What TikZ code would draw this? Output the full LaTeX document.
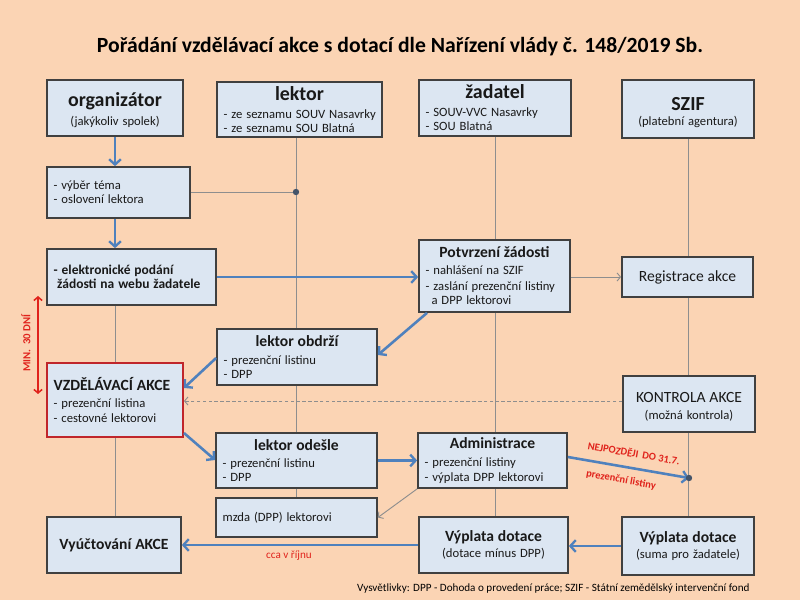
\documentclass[tikz,border=0pt]{standalone}
\usepackage{fontspec}
\setmainfont{Carlito}
\usetikzlibrary{arrows.meta}
\definecolor{bgc}{HTML}{FBD4B4}
\definecolor{boxfill}{HTML}{DCE6F2}
\definecolor{boxline}{HTML}{404040}
\definecolor{arrowblue}{HTML}{4F81BD}
\definecolor{linegray}{HTML}{8E8E8E}
\definecolor{dotc}{HTML}{44546A}
\definecolor{redc}{HTML}{E0231C}
\definecolor{redbox}{HTML}{C0262B}
\newcommand\placebox[6]{\node[box,#6,minimum width={(#4-#2)*0.03cm},minimum height={(#5-#3)*0.03cm},text width={(#4-#2)*0.03cm-0.4cm}] (#1) at ({(#2+#4)/2},{(#3+#5)/2})}
\newcommand\hd[2]{{\centering\fontsize{#1}{#1}\selectfont\bfseries #2\par}}
\newcommand\sm{\fontsize{10.8}{14}\selectfont}
\newcommand\ii[1]{\mbox{#1}}
\newcommand\tallstrut[1]{\rule{0pt}{#1}}
\begin{document}
\begin{tikzpicture}[x=0.03cm,y=-0.03cm,
  box/.style={draw=boxline,line width=1.5pt,fill=boxfill,align=left,inner xsep=0.2cm,inner ysep=1pt,text=black!90},
  barrow/.style={draw=arrowblue,line width=2.2pt,-{Straight Barb[length=4.5pt,width=10pt,line width=2pt]}},
  garrow/.style={draw=linegray,line width=0.8pt,-{Straight Barb[length=3pt,width=7pt]}},
  gline/.style={draw=linegray,line width=0.8pt},
  redlab/.style={text=redc,font=\bfseries\fontsize{9}{10}\selectfont,inner sep=0pt}]
\fill[bgc] (0,0) rectangle (800,600);
\useasboundingbox (0,0) rectangle (800,600);
\node[font=\bfseries\fontsize{18.5}{22}\selectfont] (title) at (400,47) {Pořádání vzdělávací akce s dotací dle Nařízení vlády č. 148/2019 Sb.};
% boxes
\placebox{org}{47}{80}{183}{136}{align=center}{\fontsize{17}{20}\selectfont\bfseries\tallstrut{16pt}organizátor\\[4.5pt] \sm\mdseries (jakýkoliv spolek)};
\placebox{lektor}{217}{82}{382}{137}{}{\hd{17}{lektor}\vspace{3pt}\fontsize{10.8}{12.5}\selectfont\ii{- ze seznamu SOUV Nasavrky}\\\ii{- ze seznamu SOU Blatná}};
\placebox{zad}{419}{80}{571}{136}{}{\hd{17}{žadatel}\vspace{1.5pt}\fontsize{10.8}{13.8}\selectfont\ii{- SOUV-VVC Nasavrky}\\\ii{- SOU Blatná}};
\placebox{szif}{622}{80}{754}{138}{align=center}{\fontsize{17}{20}\selectfont\bfseries\tallstrut{17pt}SZIF\\[1.3pt] \sm\mdseries (platební agentura)};
\placebox{vyber}{47}{167}{190}{218}{}{\sm\ii{- výběr téma}\\\ii{- oslovení lektora}};
\placebox{elek}{47}{249}{216}{305}{}{\fontsize{11.5}{15}\selectfont\bfseries\ii{- elektronické podání}\\\ii{\hspace*{3pt}žádosti na webu žadatele}};
\placebox{potv}{419}{240}{570}{312}{}{\hd{13.3}{Potvrzení žádosti}\sm\ii{- nahlášení na SZIF}\\\ii{- zaslání prezenční listiny}\\\ii{\hspace*{5pt}a DPP lektorovi}};
\placebox{reg}{622}{257}{753}{297}{align=center}{\fontsize{13.3}{15}\selectfont Registrace akce};
\placebox{lobd}{217}{329}{377}{385}{}{\hd{13.3}{lektor obdrží}\fontsize{10.8}{15}\selectfont\ii{- prezenční listinu}\\\ii{- DPP}};
\placebox{vzd}{47}{363}{183}{437}{draw=redbox,line width=1.6pt}{{\fontsize{13.3}{15}\selectfont\bfseries\ii{VZDĚLÁVACÍ AKCE}\par}\fontsize{10.8}{14.5}\selectfont\ii{- prezenční listina}\\\ii{- cestovné lektorovi}};
\placebox{kontr}{623}{376}{755}{432}{align=center}{\fontsize{13.3}{16}\selectfont\tallstrut{13.6pt}KONTROLA AKCE\\[2pt]\sm (možná kontrola)};
\placebox{lode}{216}{433}{377}{488}{}{\hd{13.3}{lektor odešle}\sm\ii{- prezenční listinu}\\\ii{- DPP}};
\placebox{adm}{418}{433}{567}{488}{}{\hd{13.3}{Administrace}\vspace{1pt}\fontsize{10.8}{14.5}\selectfont\ii{- prezenční listiny}\\\ii{- výplata DPP lektorovi}};
\placebox{mzda}{216}{498}{377}{537}{}{\sm\ii{mzda (DPP) lektorovi}};
\placebox{vyuc}{47}{517}{181}{573}{align=center}{\fontsize{13.3}{15}\selectfont\bfseries\ii{Vyúčtování AKCE}};
\placebox{vypl}{419}{517}{568}{573}{align=center}{\fontsize{13.3}{17}\selectfont\bfseries Výplata dotace\\[2pt]\sm\mdseries (dotace mínus DPP)};
\placebox{vypr}{622}{517}{754}{575}{align=center}{\fontsize{13.3}{17}\selectfont\bfseries Výplata dotace\\[2pt]\sm\mdseries (suma pro žadatele)};
% lifeline x positions
\coordinate (ox) at (115,0);
\coordinate (lx) at (296,0);
\coordinate (zx) at (495,0);
\coordinate (sx) at (688,0);
\coordinate (dot1) at (296,192);
\coordinate (dot2) at (689,478);
% lifelines
\draw[gline] (elek.south -| ox) -- (vzd.north -| ox);
\draw[gline] (vzd.south -| ox) -- (vyuc.north -| ox);
\draw[gline] (lektor.south -| lx) -- (lobd.north -| lx);
\draw[gline] (lobd.south -| lx) -- (lode.north -| lx);
\draw[gline] (lode.south -| lx) -- (mzda.north -| lx);
\draw[gline] (zad.south -| zx) -- (potv.north -| zx);
\draw[gline] (potv.south -| zx) -- (adm.north -| zx);
\draw[gline] (adm.south -| zx) -- (vypl.north -| zx);
\draw[gline] (szif.south -| sx) -- (reg.north -| sx);
\draw[gline] (reg.south -| sx) -- (kontr.north -| sx);
\draw[gline] (kontr.south -| sx) -- (vypr.north -| sx);
\draw[gline] (vyber.east |- dot1) -- (dot1);
\fill[dotc] (dot1) circle[radius=3.2];
% blue arrows
\draw[barrow] (org.south -| ox) -- (vyber.north -| ox);
\draw[barrow] (vyber.south -| ox) -- (elek.north -| ox);
\draw[barrow] (elek.east) -- (elek.east -| potv.west);
\draw[barrow] (427,312 |- potv.south) -- (377,355 -| lobd.east);
\draw[barrow] (217,358 -| lobd.west) -- (183,388 -| vzd.east);
\draw[barrow] (183,433 -| vzd.east) -- (216,460 -| lode.west);
\draw[barrow] (lode.east) -- (lode.east -| adm.west);
\draw[barrow] (567,457 -| adm.east) -- (dot2);
\fill[dotc] (dot2) circle[radius=3.2];
\draw[barrow] (vypr.west) -- (vypr.west -| vypl.east);
\draw[barrow] (419,545 -| vypl.west) -- (181,545 -| vyuc.east);
% gray arrows
\draw[garrow] (potv.east |- reg.west) -- (reg.west);
\draw[garrow,dash pattern=on 3pt off 2pt] (623,401 -| kontr.west) -- (183,401 -| vzd.east);
\draw[garrow] (adm.south west) -- (mzda.east);
% labels
\node[redlab,rotate=-10] (l1) at (634,453) {NEJPOZDĚJI\, DO 31.7.};
\node[redlab,rotate=-10] (l2) at (621,480) {prezenční listiny};
\node[text=redc,font=\fontsize{9.5}{10}\selectfont,inner sep=0pt] (l3) at (289,556) {cca v říjnu};
\coordinate (m1) at (38,296);
\coordinate (m2) at (38,394);
\draw[draw=redc,line width=1.3pt,{Straight Barb[length=3pt,width=7pt]}-{Straight Barb[length=3pt,width=7pt]}] (m1) -- (m2);
\node[redlab,rotate=90,font=\bfseries\fontsize{9.2}{10}\selectfont] (l4) at (26,343) {MIN.\ \ 30 DNÍ};
\node[font=\fontsize{9.5}{11}\selectfont,anchor=west,inner sep=0pt] (foot) at (357,589) {Vysvětlivky: DPP - Dohoda o provedení práce; SZIF - Státní zemědělský intervenční fond};
\end{tikzpicture}
\end{document}
